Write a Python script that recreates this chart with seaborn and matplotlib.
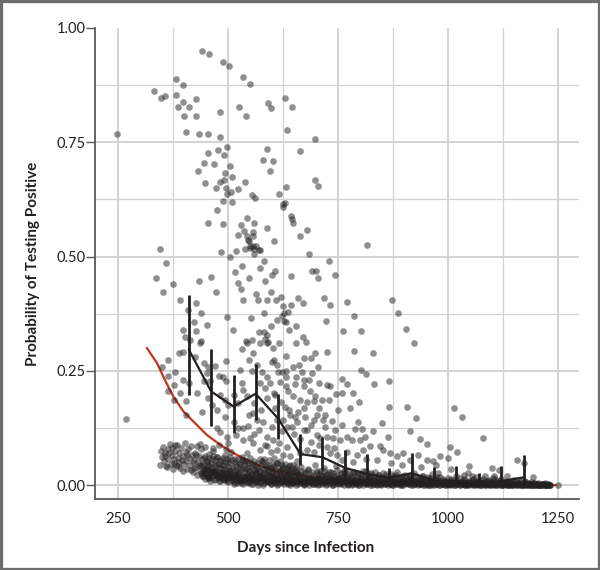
import matplotlib
matplotlib.use("Agg")
import matplotlib.pyplot as plt
import seaborn as sns
import pandas as pd
from matplotlib.patches import Rectangle
from matplotlib.ticker import FixedLocator

# ---------------- data ----------------
SCATTER_DAYS = [
    441, 458, 488, 503, 535, 551, 383, 398, 332, 348,
    358, 382, 427, 398, 386, 411, 401, 427, 482, 526,
    541, 592, 599, 248, 404, 435, 455, 483, 497, 477,
    492, 454, 445, 468, 506, 432, 494, 510, 492, 482,
    447, 540, 474, 495, 523, 589, 580, 603, 595, 631,
    646, 635, 697, 664, 698, 705, 633, 680, 664, 817,
    684, 730, 691, 700, 705, 743, 456, 490, 476, 489,
    510, 543, 530, 560, 523, 536, 558, 545, 563, 551,
    538, 570, 589, 606, 617, 626, 645, 505, 485, 518,
    583, 533, 572, 517, 608, 601, 643, 547, 585, 462,
    435, 337, 346, 360, 376, 524, 352, 392, 427, 409,
    474, 439, 423, 397, 427, 452, 403, 414, 439, 530,
    534, 497, 511, 563, 569, 553, 542, 583, 597, 590,
    610, 598, 611, 571, 582, 589, 585, 590, 544, 557,
    547, 557, 550, 560, 572, 560, 555, 561, 497, 507,
    630, 626, 644, 649, 620, 660, 670, 644, 625, 636,
    627, 624, 628, 632, 719, 733, 771, 786, 722, 873,
    887, 905, 922, 761, 803, 638, 655, 670, 678, 655,
    617, 787, 830, 803, 815, 831, 867, 797, 867, 907,
    928, 915, 936, 952, 796, 804, 788, 812, 759, 771,
    785, 759, 777, 750, 725, 732, 707, 745, 731, 725,
    699, 690, 672, 704, 691, 632, 605, 615, 624, 632,
    648, 655, 672, 674, 632, 632, 608, 648, 664, 672,
    680, 695, 708, 702, 717, 736, 721, 695, 653, 657,
    672, 680, 630, 642, 645, 626, 634, 702, 710, 725,
    740, 755, 771, 782, 801, 808, 823, 846, 853, 865,
    869, 884, 899, 914, 933, 952, 967, 982, 611, 626,
    604, 619, 642, 657, 642, 680, 695, 725, 732, 747,
    770, 793, 1014, 1032, 1080, 1004, 1021, 1001, 974, 1008,
    1049, 1101, 1116, 1158, 1174, 1194, 978, 1036, 1045, 1055,
    1084, 1104, 1134, 1250, 269, 364, 390, 398, 379, 351,
    365, 378, 365, 392, 378, 405, 397, 411, 437, 426,
    446, 456, 470, 496, 430, 441, 406, 452, 460, 446,
    479, 490, 496, 454, 464, 475, 483, 494, 501, 535,
    543, 532, 528, 513, 494, 524, 475, 483, 498, 501,
    547, 557, 566, 581, 535, 551, 570, 589, 600, 547,
    558, 573, 592, 603, 600, 573, 585, 596, 589, 604,
    608, 543, 555, 532, 535, 558, 589, 603, 573, 543,
]
SCATTER_PROB = [
    0.950, 0.942, 0.926, 0.916, 0.892, 0.878, 0.889, 0.875, 0.863, 0.847,
    0.851, 0.853, 0.845, 0.837, 0.826, 0.828, 0.808, 0.808, 0.816, 0.827,
    0.807, 0.835, 0.825, 0.768, 0.773, 0.768, 0.768, 0.762, 0.740, 0.732,
    0.723, 0.727, 0.704, 0.702, 0.698, 0.687, 0.683, 0.673, 0.668, 0.663,
    0.660, 0.663, 0.650, 0.649, 0.647, 0.735, 0.712, 0.709, 0.687, 0.846,
    0.828, 0.777, 0.758, 0.730, 0.668, 0.655, 0.653, 0.558, 0.544, 0.525,
    0.505, 0.490, 0.469, 0.469, 0.453, 0.460, 0.573, 0.572, 0.601, 0.621,
    0.620, 0.585, 0.568, 0.573, 0.547, 0.556, 0.554, 0.536, 0.524, 0.519,
    0.516, 0.515, 0.563, 0.533, 0.637, 0.614, 0.582, 0.498, 0.511, 0.513,
    0.490, 0.479, 0.475, 0.466, 0.468, 0.460, 0.458, 0.453, 0.446, 0.455,
    0.447, 0.454, 0.516, 0.486, 0.440, 0.442, 0.423, 0.406, 0.398, 0.384,
    0.423, 0.377, 0.356, 0.340, 0.337, 0.351, 0.324, 0.318, 0.316, 0.430,
    0.406, 0.367, 0.340, 0.419, 0.405, 0.365, 0.316, 0.377, 0.422, 0.405,
    0.405, 0.348, 0.361, 0.335, 0.334, 0.329, 0.320, 0.311, 0.544, 0.544,
    0.534, 0.524, 0.522, 0.516, 0.514, 0.505, 0.635, 0.629, 0.636, 0.642,
    0.618, 0.608, 0.589, 0.574, 0.412, 0.410, 0.399, 0.394, 0.392, 0.379,
    0.376, 0.369, 0.360, 0.356, 0.410, 0.395, 0.401, 0.370, 0.359, 0.405,
    0.376, 0.341, 0.311, 0.338, 0.337, 0.340, 0.348, 0.324, 0.313, 0.310,
    0.311, 0.294, 0.288, 0.252, 0.242, 0.221, 0.227, 0.182, 0.171, 0.171,
    0.147, 0.119, 0.101, 0.090, 0.138, 0.122, 0.122, 0.105, 0.232, 0.221,
    0.201, 0.201, 0.168, 0.165, 0.219, 0.216, 0.223, 0.200, 0.187, 0.291,
    0.289, 0.277, 0.277, 0.259, 0.246, 0.283, 0.274, 0.248, 0.247, 0.250,
    0.258, 0.237, 0.230, 0.216, 0.236, 0.217, 0.197, 0.195, 0.187, 0.168,
    0.181, 0.183, 0.168, 0.154, 0.143, 0.141, 0.154, 0.143, 0.150, 0.139,
    0.121, 0.121, 0.172, 0.154, 0.128, 0.143, 0.128, 0.110, 0.103, 0.106,
    0.103, 0.099, 0.106, 0.099, 0.099, 0.077, 0.085, 0.085, 0.077, 0.106,
    0.070, 0.063, 0.070, 0.055, 0.066, 0.055, 0.052, 0.063, 0.077, 0.066,
    0.059, 0.052, 0.063, 0.052, 0.044, 0.077, 0.073, 0.084, 0.070, 0.066,
    0.073, 0.066, 0.169, 0.148, 0.103, 0.083, 0.072, 0.060, 0.045, 0.035,
    0.042, 0.038, 0.033, 0.056, 0.049, 0.017, 0.026, 0.023, 0.026, 0.019,
    0.019, 0.019, 0.019, 0.000, 0.144, 0.274, 0.290, 0.291, 0.248, 0.258,
    0.239, 0.219, 0.205, 0.201, 0.187, 0.183, 0.229, 0.224, 0.311, 0.281,
    0.268, 0.259, 0.261, 0.272, 0.201, 0.161, 0.154, 0.245, 0.227, 0.227,
    0.239, 0.236, 0.227, 0.190, 0.176, 0.165, 0.197, 0.187, 0.176, 0.208,
    0.194, 0.223, 0.252, 0.139, 0.150, 0.125, 0.125, 0.117, 0.106, 0.092,
    0.154, 0.157, 0.143, 0.139, 0.125, 0.103, 0.121, 0.106, 0.128, 0.274,
    0.289, 0.311, 0.314, 0.300, 0.270, 0.223, 0.212, 0.223, 0.190, 0.201,
    0.168, 0.311, 0.318, 0.297, 0.099, 0.092, 0.085, 0.099, 0.077, 0.070,
]

# extra points in the crowded middle region
MID_DAYS = [
    612, 618, 637, 652, 661, 668, 684, 687, 698, 713,
    621, 639, 660, 676, 688, 612, 622, 650, 664, 690,
    556, 566, 578, 590, 523, 515, 560, 575, 546, 519,
    560, 585, 598, 616, 635, 665, 708, 742, 760, 785,
    815, 838, 870, 895, 940, 720, 743, 760, 830, 850,
]
MID_PROB = [
    0.262, 0.226, 0.205, 0.221, 0.262, 0.247, 0.230, 0.205, 0.196, 0.187,
    0.181, 0.165, 0.160, 0.148, 0.132, 0.142, 0.118, 0.112, 0.100, 0.095,
    0.250, 0.263, 0.247, 0.237, 0.180, 0.198, 0.180, 0.165, 0.130, 0.110,
    0.112, 0.088, 0.072, 0.093, 0.083, 0.070, 0.088, 0.082, 0.055, 0.050,
    0.058, 0.055, 0.048, 0.045, 0.040, 0.128, 0.120, 0.132, 0.118, 0.135,
]

# dense band of low values
BAND_DAYS = [
    346, 350, 353, 356, 358, 361, 363, 365, 368, 370,
    372, 374, 376, 378, 380, 382, 384, 386, 388, 390,
    392, 394, 396, 398, 400, 402, 404, 406, 408, 410,
    412, 414, 416, 418, 420, 349, 357, 367, 377, 387,
    397, 407, 417, 359, 379,
    421, 423, 425, 427, 429, 431, 433, 435, 437, 439,
    441, 443, 445, 447, 449, 451, 453, 455, 457, 459,
    461, 463, 465, 467, 469, 471, 473, 475, 477, 479,
    481, 483, 485, 487, 489, 491, 493, 495, 497, 499,
    501, 503, 505, 507, 509, 511, 513, 515, 517, 519,
    422, 428, 434, 440, 446, 452, 458, 464, 470, 476,
    482, 488, 494, 500, 506, 512, 518, 436, 466, 496,
    521, 523, 525, 527, 529, 531, 533, 535, 537, 539,
    541, 543, 545, 547, 549, 551, 553, 555, 557, 559,
    561, 563, 565, 567, 569, 571, 573, 575, 577, 579,
    581, 583, 585, 587, 589, 591, 593, 595, 597, 599,
    601, 603, 605, 607, 609, 611, 613, 615, 617, 619,
    621, 623, 625, 627, 629, 631, 633, 635, 637, 639,
    641, 643, 645, 647, 649, 526, 536, 546, 556, 566,
    576, 586, 596, 606, 616, 626, 636, 646, 532, 582,
    651, 653, 655, 658, 660, 662, 665, 667, 669, 672,
    674, 676, 679, 681, 683, 686, 688, 690, 693, 695,
    697, 700, 702, 704, 707, 709, 711, 714, 716, 718,
    721, 723, 725, 728, 730, 732, 735, 737, 739, 742,
    744, 746, 749, 751, 753, 756, 758, 760, 763, 765,
    767, 770, 772, 774, 777, 779, 781, 784, 786, 788,
    791, 793, 795, 798, 800, 802, 805, 807, 809, 812,
    814, 816, 819, 821, 823, 826, 828, 830, 833, 835,
    837, 840, 842, 844, 847, 849, 657, 703, 748, 796,
    851, 854, 857, 860, 863, 866, 869, 872, 875, 878,
    881, 884, 887, 890, 893, 896, 899, 902, 905, 908,
    911, 914, 917, 920, 923, 926, 929, 932, 935, 938,
    941, 944, 947, 950, 953, 956, 959, 962, 965, 968,
    971, 974, 977, 980, 983, 986, 989, 992, 995, 998,
    1001, 1004, 1007, 1010, 1013, 1016, 1019, 1022, 1025, 1028,
    1031, 1034, 1037, 1040, 1043, 1046, 1049, 880, 940, 1000,
    1052, 1055, 1058, 1061, 1064, 1067, 1070, 1073, 1076, 1079,
    1082, 1085, 1088, 1091, 1094, 1097, 1100, 1103, 1106, 1109,
    1112, 1115, 1118, 1121, 1124, 1127, 1130, 1133, 1136, 1139,
    1142, 1145, 1148, 1151, 1154, 1157, 1160, 1163, 1166, 1169,
    1172, 1175, 1178, 1181, 1184, 1187, 1190, 1193, 1196, 1199,
    1202, 1205, 1208, 1211, 1214, 1217, 1220, 1223, 1226, 1229,
]
BAND_PROB = [
    0.045, 0.062, 0.084, 0.052, 0.071, 0.040, 0.078, 0.058, 0.090, 0.047,
    0.066, 0.082, 0.036, 0.058, 0.074, 0.044, 0.088, 0.060, 0.050, 0.070,
    0.038, 0.081, 0.055, 0.064, 0.046, 0.092, 0.072, 0.052, 0.035, 0.079,
    0.060, 0.043, 0.086, 0.067, 0.050, 0.075, 0.064, 0.070, 0.049, 0.041,
    0.030, 0.065, 0.033, 0.041, 0.088,
    0.028, 0.055, 0.071, 0.040, 0.086, 0.022, 0.050, 0.064, 0.031, 0.078,
    0.045, 0.019, 0.060, 0.036, 0.083, 0.027, 0.052, 0.015, 0.068, 0.041,
    0.024, 0.057, 0.033, 0.075, 0.012, 0.047, 0.029, 0.062, 0.018, 0.039,
    0.088, 0.010, 0.054, 0.026, 0.043, 0.014, 0.066, 0.021, 0.035, 0.008,
    0.050, 0.017, 0.030, 0.072, 0.011, 0.040, 0.023, 0.006, 0.058, 0.019,
    0.038, 0.066, 0.044, 0.026, 0.034, 0.037, 0.016, 0.028, 0.031, 0.024,
    0.018, 0.029, 0.013, 0.025, 0.021, 0.015, 0.033, 0.090, 0.082, 0.079,
    0.004, 0.027, 0.015, 0.046, 0.009, 0.033, 0.020, 0.002, 0.055, 0.013,
    0.038, 0.024, 0.007, 0.030, 0.017, 0.048, 0.003, 0.022, 0.011, 0.036,
    0.026, 0.006, 0.042, 0.016, 0.001, 0.031, 0.020, 0.009, 0.052, 0.014,
    0.025, 0.004, 0.034, 0.018, 0.008, 0.044, 0.012, 0.028, 0.002, 0.021,
    0.037, 0.010, 0.016, 0.005, 0.026, 0.048, 0.013, 0.003, 0.023, 0.031,
    0.008, 0.017, 0.040, 0.002, 0.019, 0.011, 0.027, 0.006, 0.035, 0.014,
    0.001, 0.022, 0.009, 0.030, 0.004, 0.012, 0.018, 0.010, 0.014, 0.008,
    0.016, 0.011, 0.006, 0.013, 0.007, 0.010, 0.004, 0.009, 0.062, 0.058,
    0.018, 0.006, 0.031, 0.011, 0.002, 0.024, 0.014, 0.040, 0.007, 0.019,
    0.001, 0.028, 0.012, 0.005, 0.035, 0.016, 0.009, 0.022, 0.003, 0.013,
    0.044, 0.008, 0.026, 0.015, 0.002, 0.032, 0.010, 0.020, 0.006, 0.037,
    0.012, 0.001, 0.024, 0.009, 0.017, 0.004, 0.029, 0.013, 0.007, 0.021,
    0.002, 0.041, 0.010, 0.015, 0.005, 0.026, 0.011, 0.003, 0.019, 0.008,
    0.034, 0.013, 0.001, 0.022, 0.006, 0.016, 0.010, 0.003, 0.028, 0.012,
    0.005, 0.018, 0.001, 0.009, 0.024, 0.014, 0.004, 0.031, 0.007, 0.011,
    0.002, 0.020, 0.008, 0.015, 0.001, 0.026, 0.005, 0.012, 0.003, 0.017,
    0.009, 0.001, 0.022, 0.006, 0.013, 0.002, 0.010, 0.012, 0.008, 0.006,
    0.007, 0.016, 0.002, 0.025, 0.010, 0.004, 0.013, 0.001, 0.020, 0.008,
    0.003, 0.029, 0.011, 0.005, 0.015, 0.001, 0.009, 0.022, 0.004, 0.012,
    0.002, 0.018, 0.007, 0.001, 0.027, 0.010, 0.004, 0.014, 0.002, 0.008,
    0.021, 0.005, 0.001, 0.011, 0.003, 0.016, 0.006, 0.001, 0.025, 0.009,
    0.002, 0.013, 0.004, 0.001, 0.018, 0.007, 0.002, 0.010, 0.001, 0.005,
    0.015, 0.003, 0.008, 0.001, 0.012, 0.004, 0.020, 0.002, 0.006, 0.001,
    0.010, 0.003, 0.014, 0.001, 0.005, 0.002, 0.008, 0.006, 0.005, 0.004,
    0.004, 0.012, 0.001, 0.007, 0.018, 0.002, 0.009, 0.001, 0.005, 0.014,
    0.003, 0.001, 0.008, 0.002, 0.011, 0.004, 0.001, 0.016, 0.006, 0.002,
    0.001, 0.009, 0.003, 0.013, 0.001, 0.005, 0.002, 0.007, 0.001, 0.010,
    0.003, 0.001, 0.006, 0.002, 0.012, 0.001, 0.004, 0.002, 0.008, 0.001,
    0.003, 0.006, 0.001, 0.002, 0.005, 0.001, 0.003, 0.001, 0.004, 0.002,
    0.001, 0.003, 0.001, 0.002, 0.001, 0.002, 0.001, 0.001, 0.002, 0.001,
]

# darkest core of the band, close to zero
CORE_DAYS = [
    441, 444, 447, 450, 453, 456, 459, 462, 465, 468,
    471, 474, 477, 480, 483, 486, 489, 492, 495, 498,
    501, 504, 507, 510, 513, 516, 519, 522, 525, 528,
    531, 534, 537, 540, 543,
    546, 549, 552, 555, 558, 561, 564, 567, 570, 573,
    576, 579, 582, 585, 588, 591, 594, 597, 600, 603,
    606, 609, 612, 615, 618, 621, 624, 627, 630, 633,
    636, 639, 642, 645, 648, 651, 654, 657, 660, 663,
    666, 669, 672, 675, 678, 681, 684, 687, 690, 693,
    696, 699, 702, 705, 708, 711, 714, 717, 720, 723,
    726, 729, 732, 735, 738, 741, 744, 747, 750, 753,
    756, 759, 762, 765, 768, 771, 774, 777, 780, 783,
    786, 789, 792, 795, 798, 801, 804, 807, 810, 813,
    816, 819, 822, 825, 828, 831, 834, 837, 840, 843,
    846, 849, 852, 855, 858, 861, 864, 867, 870, 873,
    876, 879, 882, 885, 888,
    891, 895, 898, 902, 905, 909, 912, 916, 919, 923,
    926, 930, 933, 937, 940, 944, 947, 951, 954, 958,
    961, 965, 968, 972, 975, 979, 982, 986, 989, 993,
    996, 1000, 1003, 1007, 1010, 1014, 1017, 1021, 1024, 1028,
    1031, 1035, 1038, 1042, 1045, 1049, 1052, 1056, 1059, 1063,
    1066, 1070, 1073, 1077, 1080, 1084, 1087, 1091, 1094, 1098,
    1101, 1104, 1107, 1110, 1113, 1116, 1119, 1122, 1125, 1128,
    1131, 1134, 1137, 1140, 1143, 1146, 1149, 1152, 1155, 1158,
    1161, 1164, 1167, 1170, 1173, 1176, 1179, 1182, 1185, 1188,
    1191, 1194, 1197, 1200, 1203, 1206, 1209, 1212, 1215, 1218,
    1221, 1224, 1227, 1230, 1232,
]
CORE_PROB = [
    0.021, 0.030, 0.014, 0.025, 0.033, 0.018, 0.010, 0.027, 0.020, 0.031,
    0.013, 0.024, 0.017, 0.008, 0.028, 0.015, 0.022, 0.011, 0.026, 0.016,
    0.006, 0.019, 0.025, 0.012, 0.003, 0.017, 0.022, 0.009, 0.014, 0.020,
    0.005, 0.012, 0.018, 0.008, 0.015,
    0.004, 0.020, 0.011, 0.016, 0.002, 0.024, 0.009, 0.013, 0.018, 0.005,
    0.021, 0.001, 0.012, 0.017, 0.007, 0.022, 0.010, 0.003, 0.015, 0.019,
    0.006, 0.012, 0.001, 0.016, 0.009, 0.020, 0.004, 0.013, 0.008, 0.017,
    0.002, 0.011, 0.015, 0.005, 0.009, 0.014, 0.001, 0.010, 0.016, 0.004,
    0.008, 0.012, 0.002, 0.014, 0.006, 0.010, 0.001, 0.013, 0.007, 0.003,
    0.011, 0.005, 0.015, 0.001, 0.009, 0.013, 0.003, 0.007, 0.017, 0.010,
    0.002, 0.012, 0.006, 0.014, 0.001, 0.008, 0.011, 0.004, 0.016, 0.002,
    0.009, 0.006, 0.012, 0.001, 0.007, 0.010, 0.003, 0.013, 0.005, 0.001,
    0.009, 0.011, 0.002, 0.006, 0.012, 0.004, 0.008, 0.001, 0.010, 0.005,
    0.002, 0.009, 0.006, 0.011, 0.001, 0.004, 0.008, 0.002, 0.007, 0.010,
    0.003, 0.001, 0.006, 0.009, 0.002, 0.005, 0.001, 0.008, 0.003, 0.006,
    0.001, 0.004, 0.007, 0.002, 0.005,
    0.003, 0.007, 0.001, 0.005, 0.009, 0.002, 0.006, 0.001, 0.004, 0.008,
    0.002, 0.005, 0.001, 0.007, 0.003, 0.001, 0.006, 0.002, 0.004, 0.001,
    0.008, 0.003, 0.001, 0.005, 0.002, 0.006, 0.001, 0.004, 0.002, 0.001,
    0.005, 0.003, 0.001, 0.006, 0.002, 0.004, 0.001, 0.003, 0.005, 0.001,
    0.002, 0.004, 0.001, 0.003, 0.002, 0.001, 0.004, 0.002, 0.001, 0.003,
    0.001, 0.002, 0.004, 0.001, 0.002, 0.003, 0.001, 0.002, 0.001, 0.003,
    0.002, 0.001, 0.003, 0.001, 0.002, 0.004, 0.001, 0.002, 0.001, 0.003,
    0.001, 0.002, 0.001, 0.001, 0.003, 0.002, 0.001, 0.002, 0.001, 0.003,
    0.001, 0.002, 0.001, 0.001, 0.002, 0.001, 0.001, 0.002, 0.001, 0.001,
    0.002, 0.001, 0.001, 0.001, 0.002, 0.001, 0.001, 0.001, 0.001, 0.002,
    0.001, 0.001, 0.001, 0.001, 0.001,
]

# thick dark layer of the band
DENSE_DAYS = [
    440, 442, 444, 446, 448, 450, 452, 454, 456, 458,
    460, 462, 464, 466, 468, 470, 472, 474, 476, 478,
    480, 482, 484, 486, 488, 490, 492, 494, 496, 498,
    500, 502, 504, 506, 508, 510, 512, 514, 516, 518,
    520, 522, 524, 526, 528, 530, 532, 534, 536, 538,
    540, 542, 544, 546, 548, 550, 552, 554, 556, 558,
    560, 562, 564, 566, 568, 570, 572, 574, 576, 578,
    580, 582, 584, 586, 588, 590, 592, 594, 596, 598,
    600, 602, 604, 606, 608, 610, 612, 614, 616, 618,
    620, 622, 624, 626, 628, 630, 632, 634, 636, 638,
    640, 642, 644, 646, 648, 650, 652, 654, 656, 658,
    661, 664, 667, 670, 673, 676, 679, 682, 685, 688,
    691, 694, 697, 700, 703, 706, 709, 712, 715, 718,
    721, 724, 727, 730, 733, 736, 739, 742, 745, 748,
    751, 754, 757, 760, 763, 766, 769, 772, 775, 778,
    781, 784, 787, 790, 793, 796, 799, 802, 805, 808,
    811, 814, 817, 820, 823, 826, 829, 832, 835, 838,
    841, 844, 847, 850, 853, 856, 859, 862, 865, 868,
    871, 874, 877, 880, 883, 886, 889, 892, 895, 898,
    901, 904, 907, 910, 913, 916, 919, 922, 925, 928,
    931, 934, 937, 940, 943, 946, 949, 952, 955, 958,
    961, 964, 967, 970, 973, 976, 979, 982, 985, 988,
    991, 994, 997,
    1000, 1004, 1008, 1012, 1016, 1020, 1024, 1028, 1032, 1036,
    1040, 1044, 1048, 1052, 1056, 1060, 1064, 1068, 1072, 1076,
    1080, 1084, 1088, 1092, 1096, 1100, 1104, 1108, 1112, 1116,
    1120, 1124, 1128, 1132, 1136, 1140, 1144, 1148, 1152, 1156,
    1160, 1164, 1168, 1172, 1176, 1180, 1184, 1188, 1192, 1196,
    1200, 1204, 1208, 1212, 1216, 1220, 1224, 1228, 1232,
]
DENSE_PROB = [
    0.041, 0.058, 0.025, 0.047, 0.063, 0.033, 0.052, 0.019, 0.044, 0.060,
    0.029, 0.049, 0.037, 0.064, 0.023, 0.055, 0.042, 0.031, 0.061, 0.046,
    0.017, 0.053, 0.038, 0.027, 0.059, 0.045, 0.034, 0.050, 0.021, 0.057,
    0.040, 0.030, 0.062, 0.048, 0.026, 0.054, 0.036, 0.015, 0.051, 0.043,
    0.032, 0.058, 0.024, 0.047, 0.039, 0.012, 0.056, 0.035, 0.028, 0.050,
    0.044, 0.020, 0.053, 0.037, 0.031, 0.060, 0.025, 0.046, 0.041, 0.014,
    0.052, 0.033, 0.027, 0.048, 0.038, 0.022, 0.057, 0.030, 0.043, 0.018,
    0.050, 0.036, 0.026, 0.045, 0.011, 0.040, 0.032, 0.054, 0.023, 0.037,
    0.029, 0.047, 0.016, 0.042, 0.034, 0.025, 0.049, 0.013, 0.039, 0.031,
    0.021, 0.044, 0.035, 0.010, 0.028, 0.046, 0.019, 0.038, 0.030, 0.024,
    0.041, 0.015, 0.033, 0.027, 0.043, 0.012, 0.036, 0.022, 0.040, 0.026,
    0.022, 0.008, 0.030, 0.015, 0.003, 0.026, 0.012, 0.034, 0.018, 0.006,
    0.028, 0.010, 0.021, 0.002, 0.032, 0.014, 0.025, 0.007, 0.019, 0.031,
    0.004, 0.023, 0.011, 0.029, 0.016, 0.001, 0.027, 0.009, 0.020, 0.033,
    0.013, 0.005, 0.024, 0.017, 0.030, 0.008, 0.021, 0.003, 0.026, 0.012,
    0.018, 0.029, 0.006, 0.022, 0.010, 0.027, 0.001, 0.015, 0.024, 0.009,
    0.019, 0.031, 0.004, 0.013, 0.025, 0.007, 0.020, 0.011, 0.028, 0.002,
    0.016, 0.023, 0.008, 0.018, 0.026, 0.005, 0.014, 0.021, 0.010, 0.003,
    0.024, 0.012, 0.017, 0.006, 0.022, 0.009, 0.015, 0.001, 0.020, 0.011,
    0.007, 0.018, 0.004, 0.013, 0.023, 0.008, 0.016, 0.002, 0.010, 0.019,
    0.006, 0.014, 0.003, 0.012, 0.021, 0.005, 0.009, 0.017, 0.001, 0.011,
    0.015, 0.004, 0.008, 0.013, 0.002, 0.018, 0.007, 0.010, 0.003, 0.014,
    0.006, 0.009, 0.002,
    0.008, 0.002, 0.013, 0.005, 0.001, 0.010, 0.004, 0.016, 0.002, 0.007,
    0.011, 0.001, 0.006, 0.003, 0.014, 0.002, 0.009, 0.005, 0.001, 0.012,
    0.004, 0.007, 0.002, 0.010, 0.001, 0.006, 0.003, 0.013, 0.002, 0.005,
    0.008, 0.001, 0.004, 0.009, 0.002, 0.006, 0.001, 0.011, 0.003, 0.005,
    0.002, 0.007, 0.001, 0.004, 0.008, 0.002, 0.003, 0.006, 0.001, 0.004,
    0.002, 0.005, 0.001, 0.003, 0.002, 0.004, 0.001, 0.002, 0.001,
]

# binned means with intervals (black line)
BIN_DAYS = [411, 462, 513, 563, 614, 665, 715, 766, 817, 867, 918, 969, 1019, 1070, 1121, 1172]
BIN_MEAN = [0.297, 0.205, 0.172, 0.200, 0.146, 0.068, 0.061, 0.038, 0.024, 0.016,
            0.026, 0.010, 0.008, 0.007, 0.008, 0.017]
BIN_LOW = [0.197, 0.130, 0.115, 0.143, 0.101, 0.044, 0.033, 0.016, 0.008, 0.008,
           0.006, 0.002, 0.002, 0.002, 0.002, 0.005]
BIN_HIGH = [0.415, 0.297, 0.240, 0.265, 0.199, 0.111, 0.106, 0.077, 0.069, 0.037,
            0.071, 0.040, 0.041, 0.026, 0.041, 0.066]

# fitted curve (red)
CURVE_DAYS = [316, 339, 357, 376, 399, 422, 452, 483, 513, 543, 574, 604,
              650, 700, 800, 900, 1000, 1100, 1245]
CURVE_PROB = [0.300, 0.267, 0.230, 0.194, 0.161, 0.139, 0.110, 0.088, 0.070, 0.055,
              0.042, 0.033, 0.024, 0.016, 0.008, 0.004, 0.002, 0.001, 0.000]

X_TICKS = [250, 500, 750, 1000, 1250]
X_MINOR = [375, 625, 875, 1125]
Y_TICKS = [0.00, 0.25, 0.50, 0.75, 1.00]
Y_MINOR = [0.125, 0.375, 0.625, 0.875]
X_LABEL = "Days since Infection"
Y_LABEL = "Probability of Testing Positive"

assert len(SCATTER_DAYS) == len(SCATTER_PROB)
assert len(MID_DAYS) == len(MID_PROB)
assert len(BAND_DAYS) == len(BAND_PROB)
assert len(CORE_DAYS) == len(CORE_PROB)
assert len(DENSE_DAYS) == len(DENSE_PROB)

# ---------------- drawing ----------------
sns.set_theme(style="white")
plt.rcParams["font.family"] = ["Lato", "DejaVu Sans"]

INK = "#231f20"
AXIS = "#58595b"
GRID = "#d3d3d3"

fig = plt.figure(figsize=(6.0, 5.7), dpi=100)
ax = fig.add_axes([0.159, 0.124, 0.806, 0.827])
ax.set_facecolor("white")

points = pd.DataFrame({
    "days": SCATTER_DAYS + MID_DAYS + BAND_DAYS + CORE_DAYS + DENSE_DAYS,
    "prob": SCATTER_PROB + MID_PROB + BAND_PROB + CORE_PROB + DENSE_PROB,
})

curve = pd.DataFrame({"days": CURVE_DAYS, "prob": CURVE_PROB})
sns.lineplot(data=curve, x="days", y="prob", ax=ax, color="#c4351f", lw=1.6,
             zorder=2, estimator=None, sort=True)

sns.scatterplot(data=points, x="days", y="prob", ax=ax, color=INK, alpha=0.5,
                s=23, linewidth=0, zorder=3, legend=False)

bins = pd.DataFrame({"days": BIN_DAYS, "mean": BIN_MEAN, "low": BIN_LOW, "high": BIN_HIGH})
sns.lineplot(data=bins, x="days", y="mean", ax=ax, color=INK, lw=1.6,
             zorder=5, estimator=None)
ax.vlines(bins["days"], bins["low"], bins["high"], color=INK, lw=2.0, zorder=5)

ax.set_xlim(199, 1298)
ax.set_ylim(-0.031, 1.0)

ax.xaxis.set_major_locator(FixedLocator(X_TICKS))
ax.xaxis.set_minor_locator(FixedLocator(X_MINOR))
ax.yaxis.set_major_locator(FixedLocator(Y_TICKS))
ax.yaxis.set_minor_locator(FixedLocator(Y_MINOR))
ax.set_yticklabels([f"{v:.2f}" for v in Y_TICKS])
ax.set_xticklabels([str(v) for v in X_TICKS])

ax.grid(which="major", color=GRID, lw=1.4, zorder=0)
ax.grid(which="minor", color=GRID, lw=0.9, zorder=0)
ax.set_axisbelow(True)
ax.get_ygridlines()[-1].set_visible(False)

for side in ["top", "right"]:
    ax.spines[side].set_visible(False)
for side in ["left", "bottom"]:
    ax.spines[side].set_color(AXIS)
    ax.spines[side].set_linewidth(1.3)

ax.tick_params(axis="y", which="major", direction="out", length=6.5, width=1.0,
               color=AXIS, pad=0.8, labelsize=10.5, labelcolor=INK, left=True)
ax.tick_params(axis="x", which="major", length=0, pad=9, labelsize=10.5, labelcolor=INK)
ax.tick_params(which="minor", length=0)

ax.set_xlabel("")
ax.set_ylabel("")
fig.text(0.51, 0.0385, X_LABEL, ha="center", va="center", fontsize=11,
         fontweight="bold", color=INK)
fig.text(0.055, 0.5377, Y_LABEL, ha="center", va="center", rotation=90,
         fontsize=11, fontweight="bold", color=INK)

fig.add_artist(Rectangle((0, 0), 1, 1, transform=fig.transFigure, fill=False,
                         edgecolor="#6d6d6d", lw=3.8))

fig.savefig("out.png", dpi=100)
